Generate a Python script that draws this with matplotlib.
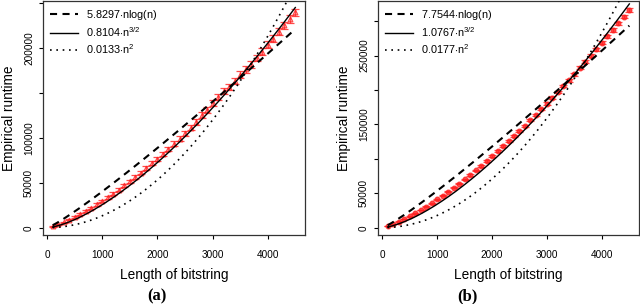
import numpy as np
import matplotlib
matplotlib.use("Agg")
import matplotlib.pyplot as plt

plt.rcParams["font.family"] = ["Liberation Sans", "DejaVu Sans"]
plt.rcParams["mathtext.fontset"] = "custom"
plt.rcParams["mathtext.rm"] = "Liberation Sans"
plt.rcParams["mathtext.it"] = "Liberation Sans:italic"

# --- data -----------------------------------------------------------
n = list(range(100, 4501, 100))

runtime_a = [1500, 3600, 6100, 8800, 11800, 15000, 18400, 22000, 25800, 29700,
             33800, 38000, 42400, 47000, 51600, 56400, 61300, 66300, 71500, 76700,
             82100, 87600, 93200, 98900, 104700, 111000, 117500, 125000, 131000, 138500,
             145500, 151500, 156500, 163000, 170000, 176000, 181500, 188500, 195500, 203500,
             210000, 217500, 225000, 232000, 239300]
err_a = [400, 500, 600, 700, 800, 900, 1000, 1100, 1200, 1300,
         1400, 1500, 1600, 1700, 1800, 1900, 2000, 2100, 2200, 2300,
         2400, 2500, 2600, 2700, 2800, 2900, 3000, 3100, 3200, 3300,
         3400, 3400, 3500, 3500, 3600, 3600, 3700, 3700, 3800, 3800,
         3900, 3900, 4000, 4000, 4000]

runtime_b = [2300, 5300, 8750, 12550, 16650, 21050, 25700, 30600, 35700, 41000,
             46500, 52200, 58050, 64100, 70300, 76700, 83200, 89900, 96700, 103650,
             110750, 118000, 125350, 132850, 140500, 148200, 156100, 164100, 172200, 180400,
             188750, 197200, 205750, 214400, 223150, 232050, 241000, 250100, 259300, 268550,
             277950, 287400, 297000, 306650, 316400]
err_b = [400, 450, 500, 550, 600, 650, 700, 750, 800, 850,
         900, 950, 1000, 1050, 1100, 1150, 1200, 1250, 1300, 1350,
         1400, 1450, 1500, 1550, 1600, 1650, 1700, 1750, 1800, 1850,
         1900, 1950, 2000, 2050, 2100, 2150, 2200, 2250, 2300, 2350,
         2400, 2450, 2500, 2550, 2600]

# fitted coefficients from the legends
fit_a = {"nlogn": 5.8297, "n15": 0.8104, "n2": 0.0133}
fit_b = {"nlogn": 7.7544, "n15": 1.0767, "n2": 0.0177}

ylims = {"a": (-8100, 251900), "b": (-10600, 329300)}
yticks = {"a": [0, 50000, 100000, 150000, 200000, 250000],
          "b": [0, 50000, 100000, 150000, 200000, 250000, 300000]}
ylabels_shown = {"a": ["0", "50000", "100000", "", "200000", ""],
                 "b": ["0", "50000", "", "150000", "", "250000", ""]}
xticks = [0, 1000, 2000, 3000, 4000]

RED = (1.0, 0.12, 0.12)


def panel(ax, key, y, err, fit, marker, mfc):
    x = np.array(n, dtype=float)
    ax.errorbar(x, y, yerr=err, fmt=marker, ms=3.4, color=RED, alpha=0.8,
                ecolor=RED, elinewidth=1.0, capsize=2.6, capthick=1.1,
                mec=RED, mfc=mfc, mew=0.9, zorder=2)

    xs = np.linspace(100, 4500, 400)
    ax.plot(xs, fit["nlogn"] * xs * np.log(xs), color="black", lw=1.5,
            dashes=(3.4, 2.6), zorder=3,
            label="%.4f$\\cdot$nlog(n)" % fit["nlogn"])
    ax.plot(xs, fit["n15"] * xs ** 1.5, color="black", lw=1.0, zorder=3,
            label="%.4f$\\cdot\\mathrm{n}^{3/2}$" % fit["n15"])
    ax.plot(xs, fit["n2"] * xs ** 2, color="black", lw=1.2,
            dashes=(1, 2.8), zorder=3,
            label="%.4f$\\cdot\\mathrm{n}^{2}$" % fit["n2"])

    ax.set_xlim(-76, 4676)
    ax.set_ylim(*ylims[key])
    ax.set_xticks(xticks)
    ax.set_xticklabels([str(t) for t in xticks])
    ax.set_yticks(yticks[key])
    ax.set_yticklabels(ylabels_shown[key], rotation=90, va="center")
    ax.tick_params(axis="both", direction="out", length=3, width=0.8,
                   labelsize=7.2)
    ax.tick_params(axis="x", pad=7.5)
    ax.tick_params(axis="y", pad=3.5)
    for s in ax.spines.values():
        s.set_linewidth(0.9)
        s.set_color("#333333")

    ax.set_xlabel("Length of bitstring", fontsize=9.8, labelpad=6)
    ax.set_ylabel("Empirical runtime", fontsize=9.8, labelpad=6)

    ax.legend(loc="upper left", frameon=False, fontsize=7.8,
              handlelength=2.6, handletextpad=0.8, labelspacing=0.3,
              borderaxespad=0.3, borderpad=0.3)


fig = plt.figure(figsize=(6.4, 3.04), dpi=100)
ax_a = fig.add_axes([43 / 640, 1 - 235 / 304, 262 / 640, 234 / 304])
ax_b = fig.add_axes([378 / 640, 1 - 235 / 304, 261 / 640, 234 / 304])

panel(ax_a, "a", runtime_a, err_a, fit_a, "^", "none")
panel(ax_b, "b", runtime_b, err_b, fit_b, "o", RED)

fig.text(157 / 640, 1 - 296 / 304, "(a)", ha="center", va="center",
         fontsize=12, fontweight="bold", family="Liberation Serif")
fig.text(467 / 640, 1 - 296 / 304, "(b)", ha="center", va="center",
         fontsize=12, fontweight="bold", family="Liberation Serif")

fig.savefig("out.png", dpi=100)
